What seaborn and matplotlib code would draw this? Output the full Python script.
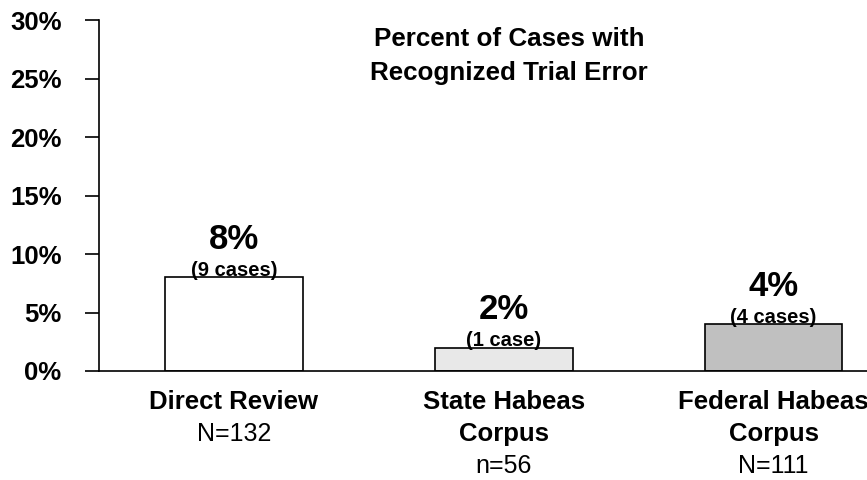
import matplotlib
matplotlib.use("Agg")
import matplotlib.pyplot as plt
import seaborn as sns
import pandas as pd

# Review stages and their rates of recognized trial error
stages = ["Direct Review", "State Habeas Corpus", "Federal Habeas Corpus"]
stage_lines = [["Direct Review"], ["State Habeas", "Corpus"], ["Federal Habeas", "Corpus"]]
sample_sizes = ["N=132", "n=56", "N=111"]
percent_error = [8, 2, 4]
case_counts = ["(9 cases)", "(1 case)", "(4 cases)"]
bar_colors = ["#ffffff", "#e8e8e8", "#c0c0c0"]
y_ticks = [0, 5, 10, 15, 20, 25, 30]

sns.set_theme(style="white")
plt.rcParams["font.family"] = ["Liberation Sans", "DejaVu Sans"]
plt.rcParams["text.color"] = "black"

df = pd.DataFrame({"stage": stages, "pct": percent_error})

fig = plt.figure(figsize=(8.67, 4.8), dpi=100)
ax = fig.add_axes([99 / 867, 1 - 371 / 480, 1 - 99 / 867, 351 / 480])

sns.barplot(data=df, x="stage", y="pct", hue="stage", palette=bar_colors,
            width=0.51, edgecolor="black", linewidth=1.2, legend=False, ax=ax)

ax.set_xlim(-0.5, 2.346)
ax.set_ylim(0, 30)
ax.set_yticks(y_ticks)
ax.set_yticklabels([f"{t}%" for t in y_ticks], fontsize=18.5, fontweight="bold", color="black")
ax.tick_params(axis="y", direction="out", length=10, width=1.2, pad=17, left=True, colors="black")
ax.set_xticks([])
ax.set_xlabel("")
ax.set_ylabel("")
for side in ["top", "right"]:
    ax.spines[side].set_visible(False)
for side in ["left", "bottom"]:
    ax.spines[side].set_color("black")
    ax.spines[side].set_linewidth(1.2)

# Value labels above each bar
for i, (p, c) in enumerate(zip(percent_error, case_counts)):
    ax.annotate(c, xy=(i, p), xytext=(0, 5), textcoords="offset points",
                ha="center", va="center", fontsize=14.5, fontweight="bold", color="black")
    ax.annotate(f"{p}%", xy=(i, p), xytext=(0, 27.5), textcoords="offset points",
                ha="center", va="center", fontsize=25, fontweight="bold", color="black")

# Category labels below the axis: bold stage name, regular sample size
trans = ax.get_xaxis_transform()
line_h = 32 / 351
for i, (lines, n) in enumerate(zip(stage_lines, sample_sizes)):
    y = -31 / 351
    for ln in lines:
        ax.text(i, y, ln, transform=trans, ha="center", va="center",
                fontsize=18.5, fontweight="bold", color="black", clip_on=False)
        y -= line_h
    ax.text(i, y, n, transform=trans, ha="center", va="center",
            fontsize=18, color="black", clip_on=False)

fig.text(509 / 867, 1 - 56 / 480, "Percent of Cases with\nRecognized Trial Error",
         ha="center", va="center", fontsize=18.7, fontweight="bold", color="black",
         linespacing=1.5)

fig.savefig("out.png", dpi=100)
